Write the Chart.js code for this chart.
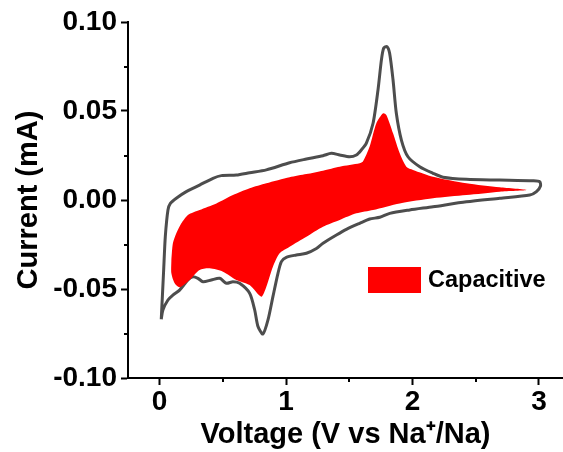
<!DOCTYPE html>
<html>
<head>
<meta charset="utf-8">
<script src="https://cdn.jsdelivr.net/npm/chart.js@4"></script>
<style>
  body { margin: 0; background: #fff; }
</style>
</head>
<body>
<canvas id="cv-chart" width="563" height="452"></canvas>
<script>
// full CV loop (gray)
const cvVoltage = [0.013, 0.032, 0.045, 0.066, 0.085, 0.132, 0.211, 0.316, 0.422, 0.488, 0.607, 0.712, 0.844, 1.028, 1.161, 1.292, 1.358, 1.424, 1.503, 1.556, 1.595, 1.635, 1.688, 1.727, 1.754, 1.772, 1.798, 1.819, 1.846, 1.872, 1.912, 1.964, 2.057, 2.162, 2.241, 2.426, 2.690, 2.953, 3.006, 3.012, 2.980, 2.927, 2.690, 2.426, 2.162, 1.978, 1.820, 1.741, 1.661, 1.582, 1.477, 1.398, 1.292, 1.240, 1.161, 1.081, 1.002, 0.963, 0.936, 0.896, 0.857, 0.817, 0.778, 0.752, 0.712, 0.633, 0.580, 0.528, 0.475, 0.409, 0.343, 0.303, 0.263, 0.224, 0.158, 0.105, 0.066, 0.026, 0.013]
const cvCurrent = [-0.0670, -0.0393, -0.0206, -0.0056, -0.0019, 0.0010, 0.0047, 0.0084, 0.0122, 0.0137, 0.0140, 0.0153, 0.0169, 0.0209, 0.0230, 0.0249, 0.0262, 0.0253, 0.0243, 0.0253, 0.0281, 0.0319, 0.0431, 0.0618, 0.0787, 0.0853, 0.0862, 0.0824, 0.0674, 0.0487, 0.0337, 0.0243, 0.0187, 0.0150, 0.0128, 0.0116, 0.0112, 0.0108, 0.0103, 0.0079, 0.0047, 0.0028, 0.0010, -0.0010, -0.0038, -0.0056, -0.0075, -0.0097, -0.0107, -0.0131, -0.0165, -0.0197, -0.0243, -0.0272, -0.0299, -0.0309, -0.0322, -0.0346, -0.0412, -0.0543, -0.0674, -0.0753, -0.0711, -0.0618, -0.0524, -0.0468, -0.0459, -0.0468, -0.0440, -0.0449, -0.0459, -0.0440, -0.0431, -0.0449, -0.0506, -0.0534, -0.0562, -0.0618, -0.0670]

// capacitive contribution (red area)
const capVoltage = [0.093, 0.105, 0.132, 0.172, 0.224, 0.316, 0.449, 0.580, 0.712, 0.844, 1.028, 1.161, 1.292, 1.424, 1.582, 1.608, 1.661, 1.714, 1.767, 1.793, 1.846, 1.899, 1.951, 2.004, 2.162, 2.426, 2.690, 2.901, 2.690, 2.426, 2.162, 1.899, 1.688, 1.556, 1.424, 1.292, 1.161, 1.028, 0.949, 0.896, 0.844, 0.804, 0.712, 0.607, 0.501, 0.396, 0.316, 0.237, 0.158, 0.119, 0.093, 0.093]
const capCurrent = [-0.0337, -0.0243, -0.0187, -0.0131, -0.0084, -0.0056, -0.0019, 0.0028, 0.0066, 0.0094, 0.0128, 0.0146, 0.0165, 0.0187, 0.0206, 0.0216, 0.0300, 0.0431, 0.0487, 0.0478, 0.0375, 0.0262, 0.0187, 0.0169, 0.0131, 0.0094, 0.0071, 0.0056, 0.0047, 0.0028, 0.0010, -0.0019, -0.0056, -0.0075, -0.0112, -0.0150, -0.0206, -0.0262, -0.0299, -0.0375, -0.0487, -0.0543, -0.0478, -0.0449, -0.0403, -0.0384, -0.0393, -0.0449, -0.0490, -0.0468, -0.0412, -0.0337]

const xTicks = [0, 1, 2, 3]
const xMinor = [0.5, 1.5, 2.5]
const yTicks = [-0.10, -0.05, 0.00, 0.05, 0.10]
const yMinor = [-0.075, -0.025, 0.025, 0.075]

const toPts = (xs, ys) => xs.map((x, i) => ({ x: x, y: ys[i] }))

const FONT = "'Liberation Sans', Arial, sans-serif"

// small outward minor ticks + inline legend
const extras = {
  id: 'extras',
  afterDraw(chart) {
    const ctx = chart.ctx
    const xs = chart.scales.x, ys = chart.scales.y
    ctx.save()
    ctx.strokeStyle = '#000'
    ctx.lineWidth = 2
    xMinor.forEach(v => {
      const px = Math.round(xs.getPixelForValue(v))
      ctx.beginPath()
      ctx.moveTo(px, xs.top)
      ctx.lineTo(px, xs.top + 4)
      ctx.stroke()
    })
    yMinor.forEach(v => {
      const py = Math.round(ys.getPixelForValue(v))
      ctx.beginPath()
      ctx.moveTo(ys.right, py)
      ctx.lineTo(ys.right - 4, py)
      ctx.stroke()
    })
    // legend
    const ds = chart.data.datasets[0]
    ctx.fillStyle = ds.backgroundColor
    ctx.fillRect(368, 267, 53, 26)
    ctx.fillStyle = '#000'
    ctx.font = "bold 23.5px " + FONT
    ctx.textBaseline = 'middle'
    ctx.fillText(ds.label, 428, 281)
    ctx.restore()
  }
}

window.onload = () => {
  new Chart(document.getElementById("cv-chart"), {
    type: 'scatter',
    data: {
      datasets: [{
          label: 'Capacitive',
          data: toPts(capVoltage, capCurrent),
          showLine: true,
          fill: 'shape',
          backgroundColor: '#ff0000',
          borderColor: '#ff0000',
          borderWidth: 0,
          pointRadius: 0,
          tension: 0.25
        }, {
          label: 'CV',
          data: toPts(cvVoltage, cvCurrent),
          showLine: true,
          fill: false,
          borderColor: '#4d4d4d',
          borderWidth: 3,
          pointRadius: 0,
          tension: 0.25
        }
      ]
    },
    plugins: [extras],
    options: {
      responsive: false,
      animation: false,
      layout: { padding: { top: 22, right: 0, left: 0, bottom: 0 } },
      plugins: {
        legend: { display: false },
        tooltip: { enabled: false }
      },
      scales: {
        x: {
          type: 'linear',
          min: -0.25,
          max: 3.19,
          afterBuildTicks: s => { s.ticks = xTicks.map(v => ({ value: v })) },
          afterFit: s => { s.height = 74 },
          border: { display: true, color: '#000', width: 2 },
          grid: { drawOnChartArea: false, drawTicks: true, tickLength: 7, tickWidth: 2, tickColor: '#000' },
          ticks: { color: '#000', padding: 0, font: { family: FONT, size: 28, weight: 'bold' }, callback: v => String(v) },
          title: { display: true, text: 'Voltage (V vs Na\u207A/Na)', color: '#000', padding: { top: 0, bottom: 0 }, font: { family: FONT, size: 29, weight: 'bold', lineHeight: 1.2 } }
        },
        y: {
          type: 'linear',
          min: -0.1,
          max: 0.1,
          afterBuildTicks: s => { s.ticks = yTicks.map(v => ({ value: v })) },
          afterFit: s => { s.width = 128 },
          border: { display: true, color: '#000', width: 2 },
          grid: { drawOnChartArea: false, drawTicks: true, tickLength: 7, tickWidth: 2, tickColor: '#000' },
          ticks: { color: '#000', padding: 4, font: { family: FONT, size: 28, weight: 'bold' }, callback: v => v.toFixed(2) },
          title: { display: true, text: 'Current (mA)', color: '#000', padding: { top: 12, bottom: 0 }, font: { family: FONT, size: 29, weight: 'bold', lineHeight: 1.2 } }
        }
      }
    }
  });
}
</script>
</body>
</html>
